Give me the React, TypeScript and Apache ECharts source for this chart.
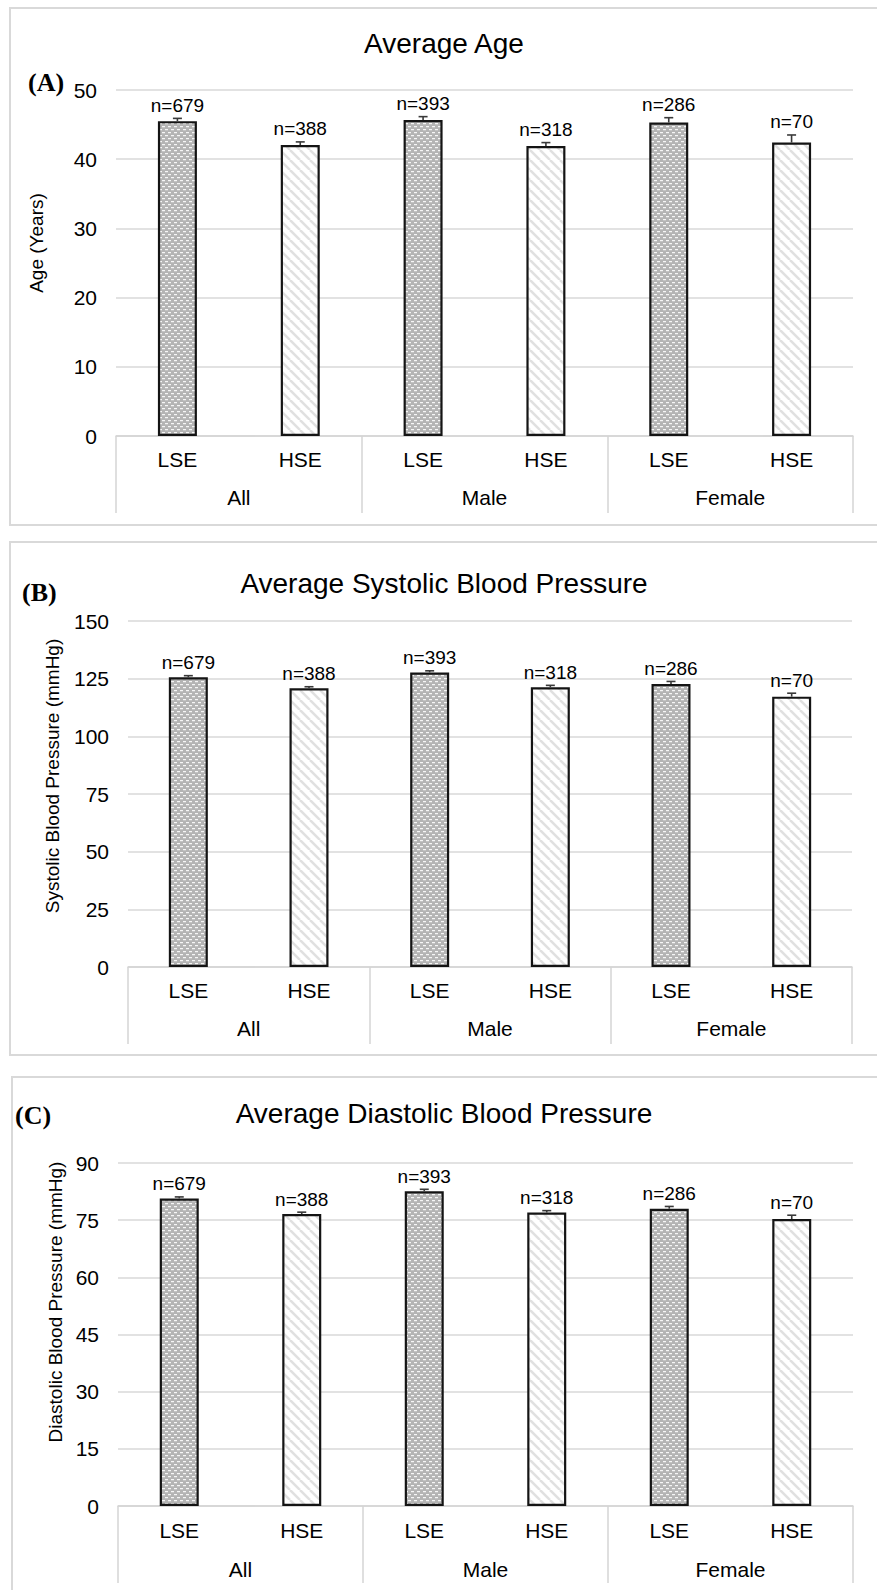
import React, { useEffect, useRef } from "react";
import * as echarts from "echarts";

const subCategories = ["LSE", "HSE", "LSE", "HSE", "LSE", "HSE"];
const groupCategories = ["All", "Male", "Female"];
const sampleSizes = [679, 388, 393, 318, 286, 70];

const ageMeans = [45.5, 42.05, 45.65, 41.9, 45.3, 42.4];
const ageSE = [0.4, 0.45, 0.5, 0.5, 0.7, 1.1];

const sbpMeans = [125.6, 120.8, 127.7, 121.3, 122.7, 117.2];
const sbpSE = [0.7, 0.7, 0.7, 0.8, 1.1, 1.5];

const dbpMeans = [80.7, 76.6, 82.6, 77.0, 78.0, 75.3];
const dbpSE = [0.4, 0.5, 0.5, 0.5, 0.6, 1.0];

const panelTitles = ["Average Age", "Average Systolic Blood Pressure", "Average Diastolic Blood Pressure"];
const panelLetters = ["(A)", "(B)", "(C)"];
const yNames = ["Age (Years)", "Systolic Blood Pressure (mmHg)", "Diastolic Blood Pressure (mmHg)"];
const yMax = [50, 150, 90];
const yInterval = [10, 25, 15];

const FONT = "'Liberation Sans', Arial, Helvetica, sans-serif";

function makeDotPattern() {
  const c = document.createElement("canvas");
  c.width = 6;
  c.height = 6;
  const ctx = c.getContext("2d")!;
  ctx.fillStyle = "#b4b4b4";
  ctx.fillRect(0, 0, 6, 6);
  ctx.fillStyle = "#f6f6f6";
  ctx.fillRect(0, 0, 3, 1);
  ctx.fillRect(3, 3, 3, 1);
  ctx.fillStyle = "#c4c4c4";
  ctx.fillRect(0, 1, 3, 1);
  ctx.fillRect(3, 4, 3, 1);
  return c;
}

function makeStripePattern() {
  const c = document.createElement("canvas");
  c.width = 10;
  c.height = 10;
  const ctx = c.getContext("2d")!;
  ctx.fillStyle = "#ffffff";
  ctx.fillRect(0, 0, 10, 10);
  ctx.strokeStyle = "#e0e0e0";
  ctx.lineWidth = 2.5;
  for (const off of [-10, 0, 10]) {
    ctx.beginPath();
    ctx.moveTo(off, 0);
    ctx.lineTo(off + 10, 10);
    ctx.stroke();
  }
  return c;
}

export default function App() {
  const ref = useRef<HTMLDivElement>(null);

  useEffect(() => {
    document.body.style.margin = "0";
    if (!ref.current) return;
    const chart = echarts.init(ref.current, undefined, { renderer: "svg" });

    const dots = makeDotPattern();
    const stripes = makeStripePattern();
    const dotFill: any = { image: dots, repeat: "repeat" };
    const stripeFill: any = { image: stripes, repeat: "repeat" };

    const grids = [
      { left: 116, top: 90, width: 737, height: 346 },
      { left: 128, top: 621, width: 724, height: 346 },
      { left: 118, top: 1163, width: 735, height: 343 },
    ];
    const labelMargins = [
      [13, 51],
      [13, 51],
      [14, 53],
    ];
    const means = [ageMeans, sbpMeans, dbpMeans];
    const ses = [ageSE, sbpSE, dbpSE];

    const xAxis: any[] = [];
    const yAxis: any[] = [];
    const series: any[] = [];

    grids.forEach((g, gi) => {
      xAxis.push({
        type: "category",
        gridIndex: gi,
        position: "bottom",
        data: subCategories,
        axisLine: { show: false },
        axisTick: { show: false },
        axisLabel: { margin: labelMargins[gi][0], fontSize: 21, color: "#000", fontFamily: FONT },
      });
      xAxis.push({
        type: "category",
        gridIndex: gi,
        position: "bottom",
        data: groupCategories,
        axisLine: { show: true, lineStyle: { color: "#d4d4d4", width: 1.5 } },
        axisTick: { show: true, length: 77, interval: 0, lineStyle: { color: "#d4d4d4", width: 1.5 } },
        axisLabel: { margin: labelMargins[gi][1], fontSize: 21, color: "#000", fontFamily: FONT },
      });
      yAxis.push({
        type: "value",
        gridIndex: gi,
        min: 0,
        max: yMax[gi],
        interval: yInterval[gi],
        axisLine: { show: false },
        axisTick: { show: false },
        splitLine: { lineStyle: { color: "#d9d9d9", width: 1.5 } },
        axisLabel: { margin: 19, fontSize: 21, color: "#000", fontFamily: FONT },
      });
      series.push({
        type: "bar",
        xAxisIndex: gi * 2,
        yAxisIndex: gi,
        barWidth: 39,
        data: means[gi].map((v, i) => ({
          value: v,
          itemStyle: {
            color: i % 2 === 0 ? dotFill : stripeFill,
            borderColor: "#141414",
            borderWidth: 2.2,
          },
        })),
      });
      series.push({
        type: "custom",
        xAxisIndex: gi * 2,
        yAxisIndex: gi,
        z: 5,
        data: means[gi].map((v, i) => [i, v, ses[gi][i], sampleSizes[i]]),
        encode: { x: 0, y: 1 },
        renderItem: (params: any, api: any) => {
          const idx = api.value(0);
          const v = api.value(1);
          const se = api.value(2);
          const n = api.value(3);
          const base = api.coord([idx, v]);
          const top = api.coord([idx, v + se]);
          const stroke = { stroke: "#3a3a3a", lineWidth: 1.6 };
          return {
            type: "group",
            children: [
              { type: "line", shape: { x1: base[0], y1: base[1], x2: base[0], y2: top[1] }, style: stroke },
              { type: "line", shape: { x1: base[0] - 4.5, y1: top[1], x2: base[0] + 4.5, y2: top[1] }, style: stroke },
              {
                type: "text",
                x: base[0],
                y: top[1] - 13,
                style: {
                  text: "n=" + n,
                  fill: "#000",
                  fontSize: 19,
                  fontFamily: FONT,
                  align: "center",
                  verticalAlign: "middle",
                },
              },
            ],
          };
        },
      });
    });

    const panelBoxes = [
      { x: 10, y: 8, h: 517 },
      { x: 10, y: 542, h: 513 },
      { x: 12, y: 1077, h: 540 },
    ];
    const letterPos = [
      [28, 82],
      [22, 592],
      [15, 1115],
    ];
    const titleY = [43, 583, 1113];
    const namePos = [
      [36, 243],
      [52, 776],
      [55, 1302],
    ];

    const graphic: any[] = [];
    panelBoxes.forEach((b, i) => {
      graphic.push({
        type: "rect",
        shape: { x: b.x, y: b.y, width: 880, height: b.h },
        style: { fill: "none", stroke: "#d9d9d9", lineWidth: 2 },
        silent: true,
        z: -1,
      });
      graphic.push({
        type: "text",
        x: letterPos[i][0],
        y: letterPos[i][1],
        style: {
          text: panelLetters[i],
          fill: "#000",
          font: "bold 26px 'Liberation Serif', 'Times New Roman', serif",
          align: "left",
          verticalAlign: "middle",
        },
      });
      graphic.push({
        type: "text",
        x: 444,
        y: titleY[i],
        style: {
          text: panelTitles[i],
          fill: "#000",
          fontSize: 28,
          fontFamily: FONT,
          align: "center",
          verticalAlign: "middle",
        },
      });
      graphic.push({
        type: "text",
        x: namePos[i][0],
        y: namePos[i][1],
        rotation: Math.PI / 2,
        style: {
          text: yNames[i],
          fill: "#000",
          fontSize: 19,
          fontFamily: FONT,
          align: "center",
          verticalAlign: "middle",
        },
      });
    });

    chart.setOption({
      animation: false,
      backgroundColor: "#ffffff",
      grid: grids,
      xAxis,
      yAxis,
      series,
      graphic,
    });

    return () => chart.dispose();
  }, []);

  return <div ref={ref} style={{ width: 877, height: 1590 }} />;
}
